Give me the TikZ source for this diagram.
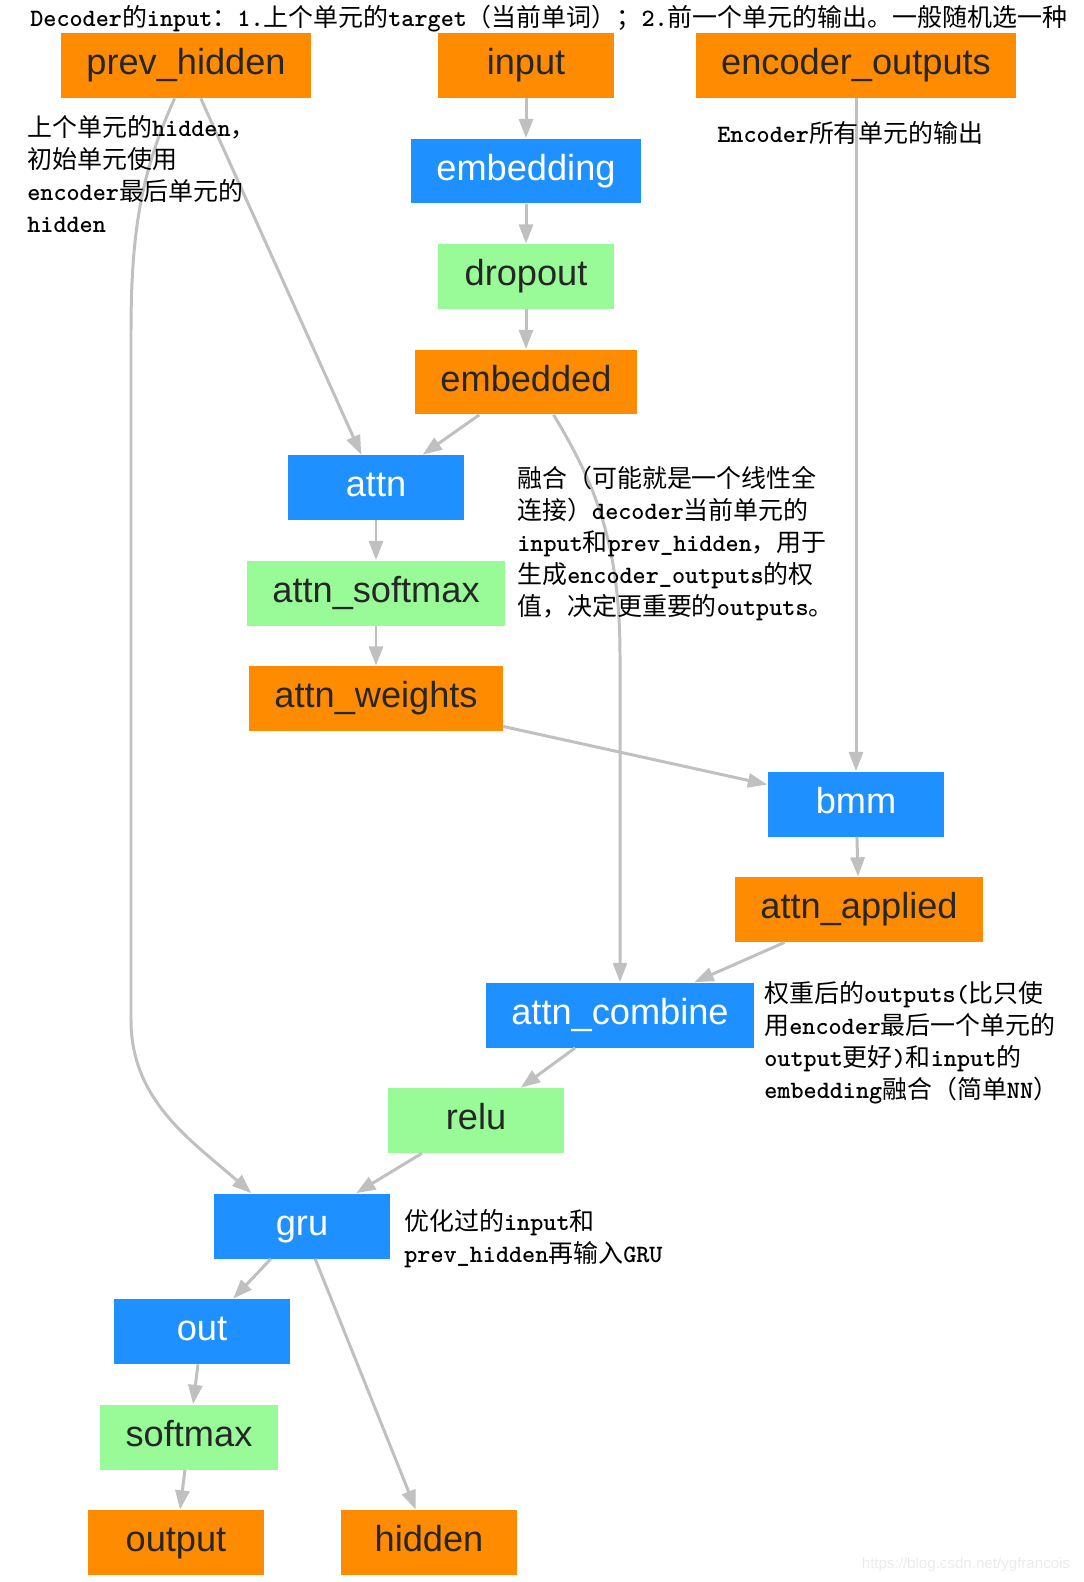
\documentclass[tikz,border=0pt]{standalone}
\usepackage{fontspec}
\setmainfont{Liberation Sans}
\newfontfamily\cjk{Noto Sans CJK SC}
\newfontfamily\monofam{lmmonolt10-bold.otf}
\usetikzlibrary{arrows.meta}
\definecolor{boxorange}{HTML}{FF8C00}
\definecolor{boxblue}{HTML}{1E90FF}
\definecolor{boxgreen}{HTML}{98FB98}
\definecolor{edgegray}{HTML}{C0C0C0}
\newcommand{\mn}[1]{{\monofam\fontsize{14.2}{18.3}\selectfont #1}}
\tikzset{
  box/.style={inner xsep=0.505cm, minimum width=3.54cm, minimum height=1.3cm,
    text height=14.8pt, text depth=4.4pt, font=\fontsize{20.6}{24}\selectfont},
  orangebox/.style={box, fill=boxorange, text=black!85},
  bluebox/.style={box, fill=boxblue, text=white},
  greenbox/.style={box, fill=boxgreen, text=black!85},
  edge/.style={draw=edgegray, line width=1.7pt, -{Triangle[length=11pt,width=8pt]}},
  note/.style={font=\cjk\fontsize{14.2}{18.3}\selectfont, align=left, inner sep=0pt, anchor=west},
}

\begin{document}
\begin{tikzpicture}[x=0.02cm,y=-0.02cm]
  \useasboundingbox (0,0) rectangle (1084,1582);
  \node[orangebox] (prevhidden) at (186,65.5)  {prev\_hidden};
  \node[orangebox] (input)      at (526,65.5)  {input};
  \node[orangebox] (encout)     at (856,65.5)  {encoder\_outputs};
  \node[bluebox]   (embedding)  at (526,171)   {embedding};
  \node[greenbox]  (dropout)    at (526,276.5) {dropout};
  \node[orangebox] (embedded)   at (526,382)   {embedded};
  \node[bluebox]   (attn)       at (376,487.5) {attn};
  \node[greenbox]  (attnsm)     at (376,593)   {attn\_softmax};
  \node[orangebox] (attnw)      at (376,698.5) {attn\_weights};
  \node[bluebox]   (bmm)        at (856,804)   {bmm};
  \node[orangebox] (attnapp)    at (859,909.5) {attn\_applied};
  \node[bluebox]   (attncomb)   at (620,1015)  {attn\_combine};
  \node[greenbox]  (relu)       at (476,1120.5) {relu};
  \node[bluebox]   (gru)        at (302,1226)  {gru};
  \node[bluebox]   (out)        at (202,1331.5) {out};
  \node[greenbox]  (softmax)    at (189,1437)  {softmax};
  \node[orangebox] (output)     at (176,1542.5) {output};
  \node[orangebox] (hidden)     at (429,1542.5) {hidden};

  \draw[edge] (input)     -- (embedding);
  \draw[edge] (embedding) -- (dropout);
  \draw[edge] (dropout)   -- (embedded);
  \draw[edge] (prevhidden) -- (attn);
  \draw[edge] (embedded)  -- (attn);
  \draw[edge] (attn)      -- (attnsm);
  \draw[edge] (attnsm)    -- (attnw);
  \draw[edge] (attnw)     -- (bmm);
  \draw[edge] (encout)    -- (bmm);
  \draw[edge] (bmm)       -- (attnapp);
  \draw[edge] (attnapp)   -- (attncomb);
  \draw[edge] (embedded.-50) .. controls (596,485) and (620,545) .. (620,656) -- (attncomb.north);
  \draw[edge] (attncomb)  -- (relu);
  \draw[edge] (prevhidden.-109) .. controls (141,172) and (131,232) .. (131,333)
              -- (131,1020) .. controls (131,1101) and (192,1141) .. (gru.147);
  \draw[edge] (relu)      -- (gru);
  \draw[edge] (gru)       -- (out);
  \draw[edge] (gru)       -- (hidden);
  \draw[edge] (out)       -- (softmax);
  \draw[edge] (softmax)   -- (output);

  % notes
  \node[note] (ntop)  at (30,18.5) {\mn{Decoder}的\mn{input}：\mn{1.}上个单元的\mn{target}（当前单词）；\mn{2.}前一个单元的输出。一般随机选一种};
  \node[note] (nprev) at (27,174)  {上个单元的\mn{hidden}，\\初始单元使用\\\mn{encoder}最后单元的\\\mn{hidden}};
  \node[note] (nenc)  at (717,133) {\mn{Encoder}所有单元的输出};
  \node[note] (nattn) at (517,543.5) {融合（可能就是一个线性全\\连接）\mn{decoder}当前单元的\\\mn{input}和\mn{prev\_hidden}，用于\\生成\mn{encoder\_outputs}的权\\值，决定更重要的\mn{outputs}。};
  \node[note] (ncomb) at (764,1043) {权重后的\mn{outputs(}比只使\\用\mn{encoder}最后一个单元的\\\mn{output}更好\mn{)}和\mn{input}的\\\mn{embedding}融合（简单\mn{NN}）};
  \node[note] (ngru)  at (404,1239) {优化过的\mn{input}和\\\mn{prev\_hidden}再输入\mn{GRU}};
  \node[text=black!8, font=\fontsize{8.6}{10}\selectfont] (mark) at (966,1565) {https://blog.csdn.net/ygfrancois};
\end{tikzpicture}
\end{document}
